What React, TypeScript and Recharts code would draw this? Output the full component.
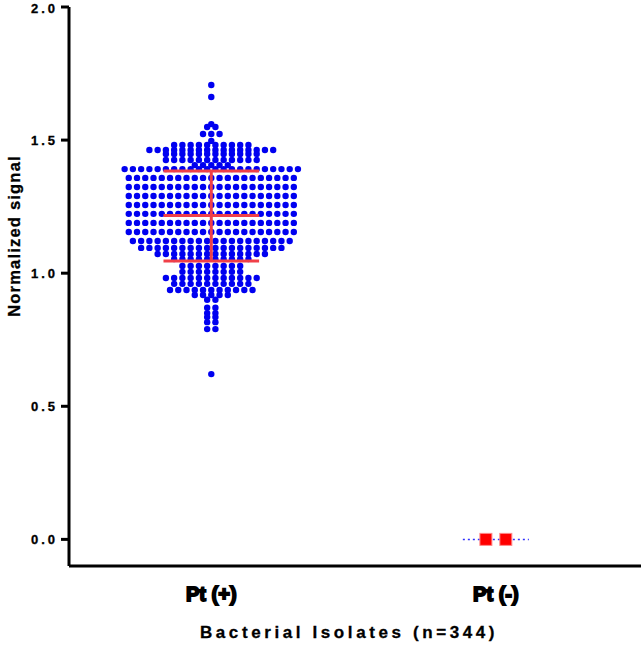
import { ScatterChart, Scatter, XAxis, YAxis, Label } from "recharts";

// Pt (+) group: beeswarm rows (signal value, number of isolates in the row)
const posRowValues = [
  1.707, 1.662, 1.56, 1.549, 1.523, 1.497, 1.482, 1.463, 1.448, 1.425, 1.406,
  1.391, 1.358, 1.324, 1.29, 1.256, 1.223, 1.189, 1.155, 1.121,
  1.095, 1.072, 1.053, 1.027, 1.005, 0.982, 0.96, 0.937, 0.918, 0.9, 0.87, 0.85,
  0.835, 0.816, 0.79, 0.621,
];
const posRowCounts = [
  1, 1, 1, 2, 3, 1, 10, 16, 12, 12, 5,
  22, 21, 21, 21, 21, 21, 21, 21, 20,
  18, 14, 10, 8, 8, 12, 10, 11, 5, 2, 2, 2,
  2, 2, 2, 1,
];
// mean and +/- SD bars for Pt (+): low, mean, high
const posStats = [1.046, 1.217, 1.384];

// Pt (-) group
const negValues = [0.0, 0.0];
const negMean = [0.0];

const categories = ["Pt (+)", "Pt (-)"];
const yTicks = [0, 0.5, 1.0, 1.5, 2.0];

const DOT_GAP = 0.029;
const BAR_HALF = 0.168;
const NEG_GAP = 0.035;
const NEG_LINE_HALF = 0.116;

const posPoints: { x: number; y: number }[] = [];
posRowValues.forEach((v, r) => {
  const n = posRowCounts[r];
  for (let i = 0; i < n; i++) {
    posPoints.push({ x: 1 + (i - (n - 1) / 2) * DOT_GAP, y: v });
  }
});

const negPoints = negValues.map((v, i) => ({
  x: 2 + (i - (negValues.length - 1) / 2) * NEG_GAP * 2,
  y: v,
}));

const seg = (x1: number, y1: number, x2: number, y2: number) => [
  { x: x1, y: y1 },
  { x: x2, y: y2 },
];

const redBars = [
  seg(1 - BAR_HALF, posStats[1], 1 + BAR_HALF, posStats[1]),
  seg(1 - BAR_HALF, posStats[0], 1 + BAR_HALF, posStats[0]),
  seg(1 - BAR_HALF, posStats[2], 1 + BAR_HALF, posStats[2]),
  seg(1, posStats[0], 1, posStats[2]),
];

const font = "'Liberation Sans', Arial, sans-serif";

const NoDot = () => <g />;

const BlueDot = (props: any) => (
  <circle cx={props.cx} cy={props.cy} r={3.2} fill="#0000f0" />
);

const RedSquare = (props: any) => (
  <rect
    x={props.cx - 6}
    y={props.cy - 6}
    width={12}
    height={12}
    fill="#ff0000"
    stroke="#ff8a8a"
    strokeWidth={1}
  />
);

const CatTick = (props: any) => {
  const { x, y, payload } = props;
  const label = categories[Math.round(payload.value) - 1] ?? "";
  return (
    <text
      x={x}
      y={y + 33}
      textAnchor="middle"
      fontFamily={font}
      fontWeight="bold"
      fontSize={20}
      fill="#000"
      stroke="#000"
      strokeWidth={1.8}
    >
      {label}
    </text>
  );
};

const App = () => {
  return (
    <div style={{ position: "absolute", left: 0, top: 0 }}>
      <ScatterChart
        width={642}
        height={645}
        margin={{ top: 7, right: 1, left: 0, bottom: 0 }}
      >
        <XAxis
          type="number"
          dataKey="x"
          domain={[0.5, 2.51]}
          ticks={[1, 2]}
          tick={<CatTick />}
          tickLine={false}
          tickSize={0}
          height={79}
          axisLine={{ stroke: "#000", strokeWidth: 3 }}
          allowDataOverflow
        >
          <Label
            content={(p: any) => {
              const vb = p.viewBox;
              return (
                <text
                  x={vb.x + vb.width / 2 - 6}
                  y={vb.y + 72}
                  textAnchor="middle"
                  fontFamily={font}
                  fontWeight="bold"
                  fontSize={17}
                  letterSpacing={3.6}
                  fill="#000"
                  stroke="#000"
                  strokeWidth={0.3}
                >
                  Bacterial Isolates (n=344)
                </text>
              );
            }}
          />
        </XAxis>
        <YAxis
          type="number"
          dataKey="y"
          domain={[-0.1, 2.0]}
          ticks={yTicks}
          tickFormatter={(v: number) => v.toFixed(1)}
          width={69}
          tickSize={8}
          tickMargin={3}
          tick={{
            fill: "#000",
            fontFamily: font,
            fontWeight: "bold",
            fontSize: 13,
            letterSpacing: 3,
            stroke: "#000",
            strokeWidth: 0.3,
          }}
          tickLine={{ stroke: "#000", strokeWidth: 3 }}
          axisLine={{ stroke: "#000", strokeWidth: 3 }}
          allowDataOverflow
        >
          <Label
            content={() => (
              <text
                transform="translate(20, 236) rotate(-90)"
                textAnchor="middle"
                fontFamily={font}
                fontWeight="bold"
                fontSize={16.5}
                letterSpacing={1.2}
                fill="#000"
                stroke="#000"
                strokeWidth={0.3}
              >
                Normalized signal
              </text>
            )}
          />
        </YAxis>

        <Scatter
          data={posPoints}
          shape={<BlueDot />}
          isAnimationActive={false}
        />
        {redBars.map((d, i) => (
          <Scatter
            key={i}
            data={d}
            shape={<NoDot />}
            line={{ stroke: "#f04048", strokeWidth: 3 }}
            isAnimationActive={false}
          />
        ))}
        <Scatter
          data={seg(2 - NEG_LINE_HALF, negMean[0], 2 + NEG_LINE_HALF, negMean[0])}
          shape={<NoDot />}
          line={{ stroke: "#3030ff", strokeWidth: 1.5, strokeDasharray: "2 3" }}
          isAnimationActive={false}
        />
        <Scatter
          data={negPoints}
          shape={<RedSquare />}
          isAnimationActive={false}
        />
      </ScatterChart>
    </div>
  );
};

export default App;
